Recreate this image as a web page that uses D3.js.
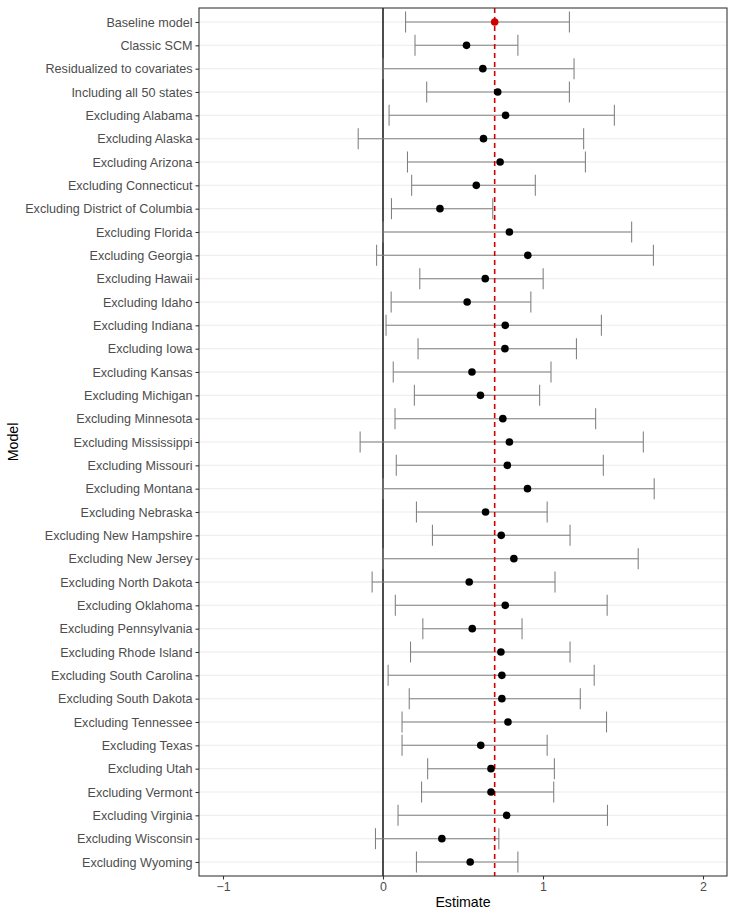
<!DOCTYPE html>
<html><head><meta charset="utf-8">
<script src="https://cdn.jsdelivr.net/npm/d3@7"></script>
<style>body{margin:0;background:#fff}</style>
</head><body>
<svg id="c" width="734" height="918"></svg>
<script>
const models = ["Baseline model","Classic SCM","Residualized to covariates","Including all 50 states",
"Excluding Alabama","Excluding Alaska","Excluding Arizona","Excluding Connecticut","Excluding District of Columbia",
"Excluding Florida","Excluding Georgia","Excluding Hawaii","Excluding Idaho","Excluding Indiana","Excluding Iowa",
"Excluding Kansas","Excluding Michigan","Excluding Minnesota","Excluding Mississippi","Excluding Missouri",
"Excluding Montana","Excluding Nebraska","Excluding New Hampshire","Excluding New Jersey","Excluding North Dakota",
"Excluding Oklahoma","Excluding Pennsylvania","Excluding Rhode Island","Excluding South Carolina","Excluding South Dakota",
"Excluding Tennessee","Excluding Texas","Excluding Utah","Excluding Vermont","Excluding Virginia","Excluding Wisconsin",
"Excluding Wyoming"];
const estimates = [0.698,0.522,0.624,0.717,0.766,0.628,0.732,0.583,0.356,0.790,0.905,0.639,0.526,0.764,0.762,0.556,0.609,0.749,0.790,0.777,0.903,0.641,0.739,0.818,0.539,0.764,0.558,0.737,0.743,0.743,0.781,0.611,0.675,0.675,0.773,0.368,0.545];
const lower = [0.141,0.200,0.000,0.273,0.038,-0.155,0.153,0.179,0.053,0.000,-0.040,0.230,0.051,0.019,0.219,0.064,0.196,0.075,-0.143,0.083,0.000,0.209,0.309,0.000,-0.068,0.077,0.249,0.172,0.032,0.164,0.119,0.119,0.279,0.241,0.094,-0.047,0.209];
const upper = [1.165,0.843,1.194,1.165,1.446,1.254,1.265,0.952,0.686,1.554,1.690,1.001,0.924,1.365,1.209,1.050,0.979,1.329,1.627,1.377,1.695,1.026,1.169,1.595,1.075,1.401,0.869,1.169,1.320,1.233,1.397,1.026,1.071,1.067,1.403,0.724,0.843];
const xTicks = [-1,0,1,2];
const xLimits = [-1,2];
const baselineValue = 0.698;

const data = models.map((m,i)=>({model:m, est:estimates[i], lo:lower[i], hi:upper[i]}));
const svg = d3.select("#c");
const L = 199, R = 727, T = 8, B = 876;
const pad = (xLimits[1]-xLimits[0])*0.05;
const x = d3.scaleLinear().domain([xLimits[0]-pad, xLimits[1]+pad]).range([L,R]);
const n = models.length;
const step = (B-T)/(n-1+1.2);
const y = d3.scalePoint().domain(models).range([T+0.6*step, B-0.6*step]);
const font = "'Liberation Sans', Arial, Helvetica, sans-serif";

svg.append("rect").attr("x",L).attr("y",T).attr("width",R-L).attr("height",B-T).attr("fill","#fff");
// gridlines
svg.append("g").selectAll("line").data(models).join("line")
  .attr("x1",L).attr("x2",R).attr("y1",d=>y(d)).attr("y2",d=>y(d))
  .attr("stroke","#ebebeb").attr("stroke-width",1.07);

// zero line
svg.append("line").attr("x1",x(0)).attr("x2",x(0)).attr("y1",T).attr("y2",B)
  .attr("stroke","#000").attr("stroke-width",1.4);
// errorbars
const cap = step*0.9/2;
const eb = svg.append("g").attr("stroke","#808080").attr("stroke-width",1.07).attr("fill","none");
eb.selectAll("line.h").data(data).join("line").attr("class","h")
  .attr("x1",d=>x(d.lo)).attr("x2",d=>x(d.hi)).attr("y1",d=>y(d.model)).attr("y2",d=>y(d.model));
eb.selectAll("line.l").data(data).join("line").attr("class","l")
  .attr("x1",d=>x(d.lo)).attr("x2",d=>x(d.lo)).attr("y1",d=>y(d.model)-cap).attr("y2",d=>y(d.model)+cap);
eb.selectAll("line.u").data(data).join("line").attr("class","u")
  .attr("x1",d=>x(d.hi)).attr("x2",d=>x(d.hi)).attr("y1",d=>y(d.model)-cap).attr("y2",d=>y(d.model)+cap);
// baseline dashed
svg.append("line").attr("x1",x(baselineValue)).attr("x2",x(baselineValue)).attr("y1",T).attr("y2",B)
  .attr("stroke","#d40000").attr("stroke-width",1.6).attr("stroke-dasharray","5,4");
// points
svg.append("g").selectAll("circle").data(data).join("circle")
  .attr("cx",d=>x(d.est)).attr("cy",d=>y(d.model)).attr("r",3.8)
  .attr("fill",(d,i)=>i===0?"#cc0000":"#000");
// border
svg.append("rect").attr("x",L).attr("y",T).attr("width",R-L).attr("height",B-T)
  .attr("fill","none").attr("stroke","#333").attr("stroke-width",1.07);

// axes
const xa = svg.append("g").attr("transform",`translate(0,${B})`)
  .call(d3.axisBottom(x).tickValues(xTicks).tickSize(3.5).tickPadding(3).tickFormat(d=>d<0?"\u2212"+Math.abs(d):d));
xa.select(".domain").remove();
xa.selectAll("line").attr("stroke","#333").attr("stroke-width",1.07);
xa.selectAll("text").attr("fill","#4d4d4d").style("font-family",font).style("font-size","12.4px");
const ya = svg.append("g").attr("transform",`translate(${L},0)`)
  .call(d3.axisLeft(y).tickSize(3.5).tickPadding(3));
ya.select(".domain").remove();
ya.selectAll("line").attr("stroke","#333").attr("stroke-width",1.07);
ya.selectAll("text").attr("fill","#4d4d4d").style("font-family",font).style("font-size","12.6px");

svg.append("text").attr("x",(L+R)/2).attr("y",907).attr("text-anchor","middle")
  .style("font-family",font).style("font-size","14.2px").attr("fill","#000").text("Estimate");
svg.append("text").attr("transform",`translate(18,${(T+B)/2}) rotate(-90)`).attr("text-anchor","middle")
  .style("font-family",font).style("font-size","14.2px").attr("fill","#000").text("Model");
</script>
</body></html>
